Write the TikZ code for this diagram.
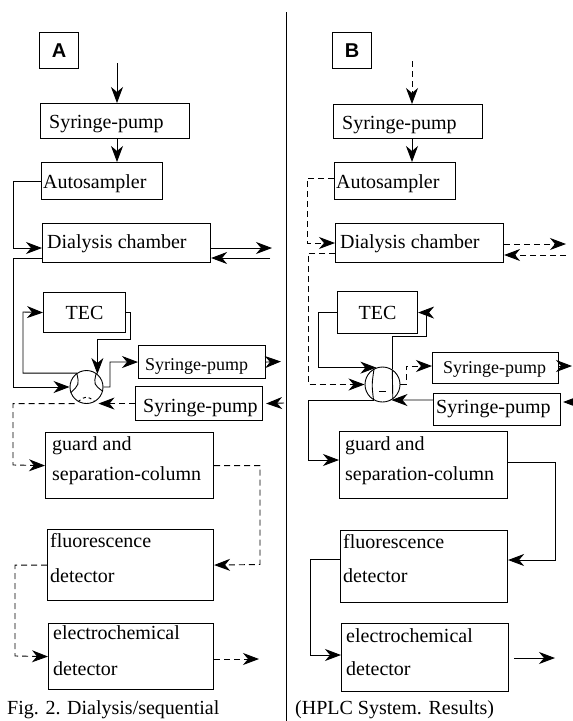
\documentclass[tikz,border=0pt]{standalone}
\usepackage{fontspec}
\setmainfont{Liberation Serif}
\newfontfamily\labfont{Liberation Sans}
\usetikzlibrary{arrows.meta,calc}
\begin{document}
\begin{tikzpicture}[x=1pt,y=-1pt,
  box/.style={draw, line width=1.1pt, rectangle, inner sep=0pt, anchor=north west},
  txt/.style={font=\fontsize{20}{24}\selectfont, inner sep=0pt, anchor=base west},
  txts/.style={font=\fontsize{18}{22}\selectfont, inner sep=0pt, anchor=base west},
  lbl/.style={box, minimum width=39pt, minimum height=36pt, font=\labfont\bfseries\fontsize{20}{24}\selectfont},
  conn/.style={line width=0.9pt},
  arr/.style={conn, -{Stealth[length=16pt,width=12pt,inset=5pt]}},
  dsh/.style={dash pattern=on 6pt off 4pt},
  valve/.style={circle, draw, line width=0.9pt, inner sep=0pt},
  captxt/.style={anchor=base west, inner sep=0pt, font=\fontsize{20}{24}\selectfont}
]
\useasboundingbox (0,0) rectangle (573,721);
% divider
\draw[line width=1pt] (286,12) -- (286,721);

% ================= Panel A =================
\node[lbl] (lblA) at (39,32) {A};
\node[box, minimum width=149pt, minimum height=35pt] (spA1) at (40,103) {};
\node[txt] (spA1t) at ($(spA1.north west)+(9,25)$) {Syringe-pump};
\node[box, minimum width=121pt, minimum height=37pt] (asA) at (41,162) {};
\node[txt] (asAt) at ($(asA.north west)+(2,26)$) {Autosampler};
\node[box, minimum width=168pt, minimum height=39pt] (dA) at (42,223) {};
\node[txt] (dAt) at ($(dA.north west)+(5,25)$) {Dialysis chamber};
\node[box, minimum width=82pt, minimum height=40pt, font=\fontsize{20}{24}\selectfont] (tecA) at (43,292) {TEC};
\node[box, minimum width=127pt, minimum height=33pt] (spA2) at (138,345) {};
\node[txts] (spA2t) at ($(spA2.north west)+(7,25)$) {Syringe-pump};
\node[box, minimum width=127pt, minimum height=34pt] (spA3) at (135,386) {};
\node[txt] (spA3t) at ($(spA3.north west)+(8,26)$) {Syringe-pump};
\node[box, minimum width=168pt, minimum height=66pt] (gA) at (45,432) {};
\node[txt] (gAt1) at ($(gA.north west)+(7,18)$) {guard and};
\node[txt] (gAt2) at ($(gA.north west)+(7,48)$) {separation-column};
\node[box, minimum width=166pt, minimum height=71pt] (fA) at (47,529) {};
\node[txt] (fAt1) at ($(fA.north west)+(3,18)$) {fluorescence};
\node[txt] (fAt2) at ($(fA.north west)+(3,53)$) {detector};
\node[box, minimum width=165pt, minimum height=66pt] (eA) at (48,623) {};
\node[txt] (eAt1) at ($(eA.north west)+(5,16)$) {electrochemical};
\node[txt] (eAt2) at ($(eA.north west)+(5,52)$) {detector};
\node[valve, minimum size=33pt] (vA) at (86.5,387) {};
\draw[conn] (vA.125) .. controls ($(vA.center)!0.45!(vA.162)$) .. (vA.200);
\draw[conn] (vA.55) .. controls ($(vA.center)!0.45!(vA.20)$) .. (vA.-15);
\draw[conn, dash pattern=on 3pt off 3pt] (vA.240) .. controls ($(vA.center)!0.5!(vA.270)$) .. (vA.300);

\coordinate (inA) at (117,63);
\draw[arr] (inA) -- (inA |- spA1.north);
\draw[arr] (inA |- spA1.south) -- (inA |- asA.north);
\draw[arr] (asA.west) -| (13,248) -- (dA.west |- 0,248);
\draw[arr] (dA.west |- 0,258) -| (13,387) -- (vA.west);
\coordinate (dAo) at (272,248);
\coordinate (dAi) at (270,258);
\draw[arr] (dA.east |- dAo) -- (dAo);
\draw[arr] (dAi) -- (dA.east |- dAi);
\draw[arr] (vA.125) -| (23,312) -- (tecA.west);
\draw[arr] (tecA.east) -| (130,339) -| (vA.50);
\draw[arr] (vA.east) -| (110,362) -- (spA2.west);
\coordinate (spA2o) at (281,361.5);
\draw[arr] (spA2.east) -- (spA2o);
\coordinate (spA3i) at (284,403);
\draw[arr] (spA3i) -- ($(spA3.east)+(3,0)$);
\draw[arr,dsh] (spA3.west) -- (spA3.west -| vA.south east);
\draw[arr,dsh] (vA.south west |- spA3.west) -| (13,465) -- (gA.west);
\draw[arr,dsh] (gA.east) -| (260,564.5) -- (fA.east);
\draw[arr,dsh] (fA.west) -| (15,656) -- (eA.west);
\coordinate (eAo) at (259,659);
\draw[arr,dsh] (eA.east |- eAo) -- (eAo);

% ================= Panel B =================
\node[lbl] (lblB) at (332,32) {B};
\node[box, minimum width=149pt, minimum height=34pt] (spB1) at (333,104) {};
\node[txt] (spB1t) at ($(spB1.north west)+(9,25)$) {Syringe-pump};
\node[box, minimum width=121pt, minimum height=37pt] (asB) at (334,162) {};
\node[txt] (asBt) at ($(asB.north west)+(2,26)$) {Autosampler};
\node[box, minimum width=168pt, minimum height=39pt] (dB) at (335,223) {};
\node[txt] (dBt) at ($(dB.north west)+(5,25)$) {Dialysis chamber};
\node[box, minimum width=80pt, minimum height=42pt, font=\fontsize{20}{24}\selectfont] (tecB) at (337,291) {TEC};
\node[box, minimum width=126pt, minimum height=31pt] (spB2) at (432,352) {};
\node[txts] (spB2t) at ($(spB2.north west)+(11,21)$) {Syringe-pump};
\node[box, minimum width=127pt, minimum height=32pt] (spB3) at (433,393) {};
\node[txt] (spB3t) at ($(spB3.north west)+(3,20)$) {Syringe-pump};
\node[box, minimum width=168pt, minimum height=67pt] (gB) at (339,431) {};
\node[txt] (gBt1) at ($(gB.north west)+(6,19)$) {guard and};
\node[txt] (gBt2) at ($(gB.north west)+(6,49)$) {separation-column};
\node[box, minimum width=167pt, minimum height=72pt] (fB) at (340,530) {};
\node[txt] (fBt1) at ($(fB.north west)+(3,18)$) {fluorescence};
\node[txt] (fBt2) at ($(fB.north west)+(3,52)$) {detector};
\node[box, minimum width=167pt, minimum height=68pt] (eB) at (341,623) {};
\node[txt] (eBt1) at ($(eB.north west)+(5,19)$) {electrochemical};
\node[txt] (eBt2) at ($(eB.north west)+(5,52)$) {detector};
\node[valve, minimum size=35pt] (vB) at (382.5,384.5) {};
\draw[conn] (vB.118) .. controls ($(vB.center)!0.6!(vB.180)$) .. (vB.240);
\draw[conn] (vB.57) .. controls ($(vB.center)!0.6!(vB.0)$) .. (vB.-55);
\draw[conn] ($(vB.center)+(-3.5,6.5)$) -- ++(7,0);

\coordinate (inB) at (412,61);
\draw[arr,dsh] (inB) -- (inB |- spB1.north);
\draw[arr] (inB |- spB1.south) -- (inB |- asB.north);
\draw[arr,dsh] (asB.west |- 0,178) -| (307,243) -- (dB.west |- 0,243);
\draw[arr,dsh] (dB.west |- 0,253) -| (308,384.5) -- (vB.west);
\coordinate (dBo) at (566,244);
\coordinate (dBi) at (566,255);
\draw[arr,dsh] (dB.east |- dBo) -- (dBo);
\draw[arr,dsh] (dBi) -- (dB.east |- dBi);
\draw[arr] (tecB.west) -- ++(-19,0) |- (vB.110);
\draw[arr] (vB.57) |- (426,336) |- (tecB.east);
\draw[arr,dsh] (vB.east) -| (406,366) -- (spB2.west |- 0,366);
\coordinate (spB2o) at (572,366);
\draw[arr] (spB2.east |- spB2o) -- (spB2o);
\coordinate (spB3i) at (573,402);
\draw[arr] (spB3i) -- ($(spB3.east |- spB3i)+(2,0)$);
\draw[arr] (spB3.west |- 0,400) -- (vB.-60);
\draw[arr] (vB.-120) -| (308,460) -- (gB.west |- 0,460);
\draw[arr] (gB.east |- 0,462) -| (555,560) -- (fB.east |- 0,560);
\draw[arr] (fB.west |- 0,559) -| (310,655) -- (eB.west |- 0,655);
\coordinate (eBo) at (555,658);
\draw[arr] ($(eB.east |- eBo)+(5,0)$) -- (eBo);

% caption
\node[captxt] (capL) at (7,714) {Fig. 2. Dialysis/sequential};
\node[captxt] (capR) at (295,714) {(HPLC System. Results)};
\end{tikzpicture}
\end{document}
